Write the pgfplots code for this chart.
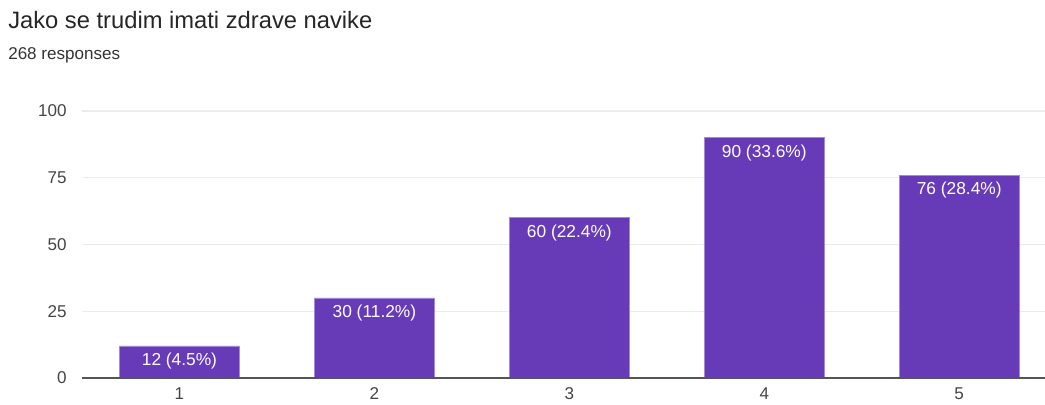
\documentclass[border=0pt]{standalone}
\usepackage{fontspec}
\setmainfont{Liberation Sans}
\usepackage{pgfplots}
\pgfplotsset{compat=1.18}
\definecolor{barpurple}{HTML}{673AB7}
\definecolor{gridgray}{HTML}{EBEBEB}
\definecolor{txtgray}{HTML}{444444}
\definecolor{axisgray}{HTML}{555555}
\begin{document}
\begin{tikzpicture}
\useasboundingbox (0,0) rectangle (783.75pt,303pt);
\node[anchor=base west, inner sep=0pt, font=\fontsize{17.8pt}{20pt}\selectfont, text=black!85] at (6pt,{(404-29)*0.75pt}) {Jako se trudim imati zdrave navike};
\node[anchor=base west, inner sep=0pt, font=\fontsize{12.8pt}{15pt}\selectfont, text=black!80] at (6pt,{(404-60)*0.75pt}) {268 responses};
\begin{axis}[
  at={(61.5pt,19.5pt)}, anchor=south west,
  scale only axis, width=722.25pt, height=200.25pt,
  xmin=0.5, xmax=5.44, ymin=0, ymax=100,
  axis line style={draw=none},
  ybar, bar width=0.615,
  xtick={1,2,3,4,5}, ytick={0,25,50,75,100},
  major tick length=0pt,
  ymajorgrids, grid style={gridgray, line width=0.8pt},
  tick label style={font=\fontsize{12.8pt}{15pt}\selectfont, text=txtgray},
  yticklabel style={xshift=-8pt},
  xticklabel style={yshift=-4pt},
  /pgf/number format/assume math mode=true,
  nodes near coords,
  point meta=explicit symbolic,
  every node near coord/.append style={anchor=north, yshift=-1.5pt, text=white, font=\fontsize{13pt}{15pt}\selectfont},
  clip=false,
]
\addplot[fill=barpurple, draw=barpurple!60!white, line width=0.5pt] coordinates {
  (1,12) [12 (4.5\%)]
  (2,30) [30 (11.2\%)]
  (3,60) [60 (22.4\%)]
  (4,90) [90 (33.6\%)]
  (5,76) [76 (28.4\%)]
};
\draw[axisgray, line width=0.9pt] (axis cs:0.5,0) -- (axis cs:5.44,0);
\end{axis}
\end{tikzpicture}
\end{document}
